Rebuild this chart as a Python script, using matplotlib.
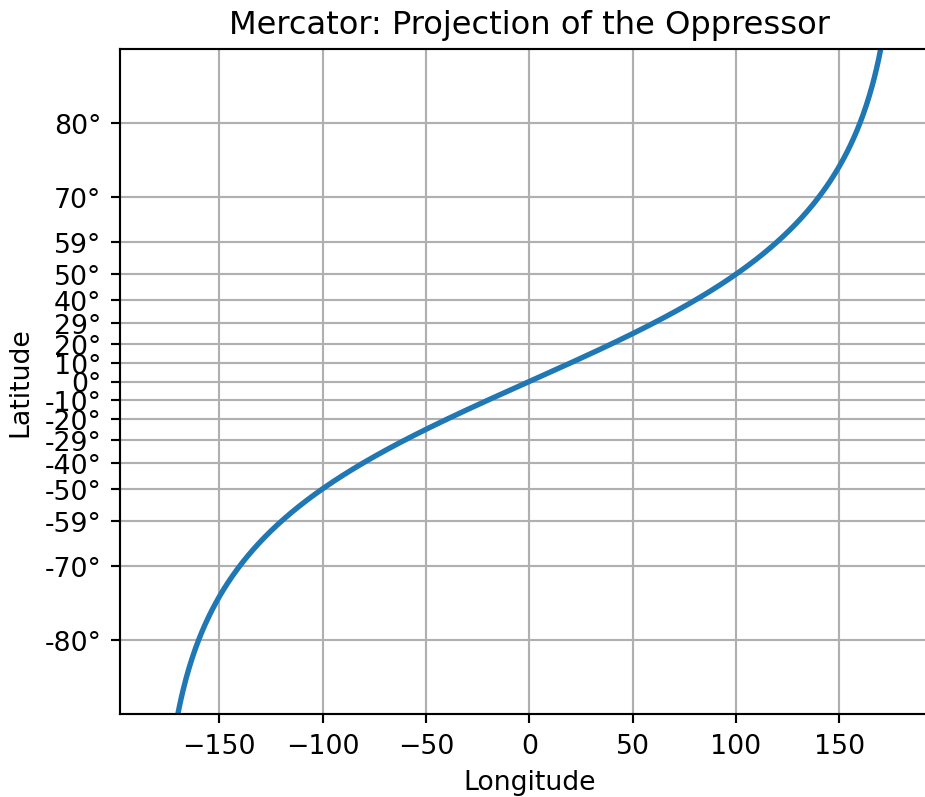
import numpy as np
import matplotlib
matplotlib.use("Agg")
import matplotlib.pyplot as plt
from matplotlib import scale as mscale
from matplotlib import transforms as mtransforms
from matplotlib.path import Path
from matplotlib.ticker import FixedLocator, FixedFormatter, NullFormatter

# ---- data ----
lon = [-180, -170, -160, -150, -140, -130, -120, -110, -100, -90, -80, -70, -60, -50,
       -40, -30, -20, -10, 0, 10, 20, 30, 40, 50, 60, 70, 80, 90, 100, 110, 120,
       130, 140, 150, 160, 170, 180]
lat = [-90, -85, -80, -75, -70, -65, -60, -55, -50, -45, -40, -35, -30, -25,
       -20, -15, -10, -5, 0, 5, 10, 15, 20, 25, 30, 35, 40, 45, 50, 55, 60,
       65, 70, 75, 80, 85, 90]

lat_ticks = [-80, -70, -60, -50, -40, -30, -20, -10, 0, 10, 20, 30, 40, 50, 60, 70, 80]
lat_tick_labels = ["-80°", "-70°", "-59°", "-50°", "-40°", "-29°", "-20°", "-10°", "0°",
                   "10°", "20°", "29°", "40°", "50°", "59°", "70°", "80°"]
lon_ticks = [-150, -100, -50, 0, 50, 100, 150]

title = "Mercator: Projection of the Oppressor"
xlabel = "Longitude"
ylabel = "Latitude"


class MercatorLatitudeScale(mscale.ScaleBase):
    name = "mercator_deg"

    def __init__(self, axis, *, thresh=85.0, **kwargs):
        super().__init__(axis)
        self.thresh = thresh

    def get_transform(self):
        return self.MercatorLatitudeTransform(self.thresh)

    def set_default_locators_and_formatters(self, axis):
        axis.set_major_locator(FixedLocator(lat_ticks))
        axis.set_major_formatter(FixedFormatter(lat_tick_labels))
        axis.set_minor_formatter(NullFormatter())

    def limit_range_for_scale(self, vmin, vmax, minpos):
        return max(vmin, -self.thresh), min(vmax, self.thresh)

    class MercatorLatitudeTransform(mtransforms.Transform):
        input_dims = output_dims = 1

        def __init__(self, thresh):
            super().__init__()
            self.thresh = thresh

        def transform_non_affine(self, a):
            r = np.radians(np.asarray(a, dtype=float))
            return np.arcsinh(np.tan(r))

        def inverted(self):
            return MercatorLatitudeScale.InvertedMercatorLatitudeTransform(self.thresh)

    class InvertedMercatorLatitudeTransform(mtransforms.Transform):
        input_dims = output_dims = 1

        def __init__(self, thresh):
            super().__init__()
            self.thresh = thresh

        def transform_non_affine(self, a):
            return np.degrees(np.arctan(np.sinh(np.asarray(a, dtype=float))))

        def inverted(self):
            return MercatorLatitudeScale.MercatorLatitudeTransform(self.thresh)


mscale.register_scale(MercatorLatitudeScale)

W, H, DPI = 925, 798, 193
fig = plt.figure(figsize=(W / DPI, H / DPI), dpi=DPI)
ax = fig.add_axes([120 / W, (H - 715) / H, 818.6 / W, 665 / H])

# straight segments in data space, subdivided so the scale can bend them
seg = Path(np.column_stack([lon, lat])).interpolated(20)
ax.plot(seg.vertices[:, 0], seg.vertices[:, 1], "-", lw=2, color="#1f77b4")

ax.set_yscale("mercator_deg")
ax.set_xlim(-198, 198)
ax.set_ylim(-85, 85)
ax.set_xticks(lon_ticks)
ax.set_xlabel(xlabel)
ax.set_ylabel(ylabel)
ax.set_title(title)
ax.grid(True)

fig.savefig("out.png", dpi=DPI)
